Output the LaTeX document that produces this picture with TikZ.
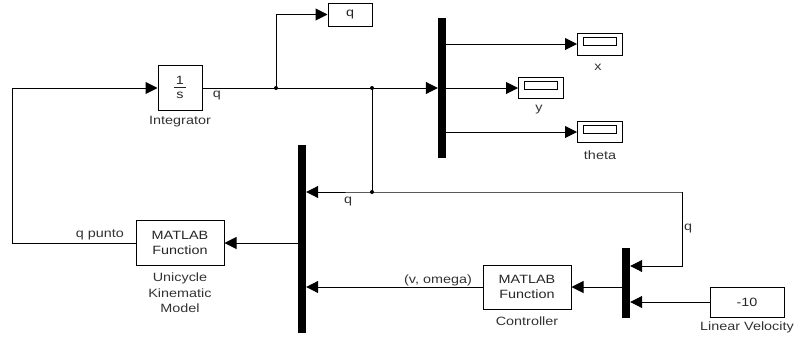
\documentclass[tikz,border=0pt]{standalone}
\usepackage{fontspec}
\setmainfont{Liberation Sans}[FakeStretch=1.2]
\usetikzlibrary{arrows.meta,calc}
\newcommand{\lblfont}{\fontsize{12pt}{15.5pt}\selectfont}
\tikzset{
  blk/.style={draw, line width=1pt, inner sep=0pt, align=center, font=\lblfont, text=black!85},
  muxbar/.style={fill=black, draw=none, inner sep=0pt, minimum width=8pt},
  wire/.style={line width=1pt},
  sig/.style={wire, -{Triangle[length=12pt,width=12pt]}},
  lab/.style={font=\lblfont, text=black!80, inner sep=0pt, align=center},
  jdot/.style={circle, fill=black, inner sep=0pt, minimum size=4pt},
}
\begin{document}
\begin{tikzpicture}[x=1pt,y=-1pt]
\useasboundingbox[fill=white] (0,0) rectangle (797,343);

% blocks
\node[blk, minimum width=44pt, minimum height=45pt] (integ) at (180,88)
  {\begin{tabular}{@{\,}c@{\,}}1\\[-2pt]\hline\rule{0pt}{10pt}s\end{tabular}};
\node[blk, minimum width=44pt, minimum height=23pt] (qdisp) at (350,14.5) {q};
\node[muxbar, minimum height=140pt] (mux1) at (442,88) {};
\node[blk, minimum width=45pt, minimum height=22pt] (dx) at (600,44) {};
\node[blk, minimum width=45pt, minimum height=21pt] (dy) at (541,88) {};
\node[blk, minimum width=45pt, minimum height=21pt] (dth) at (600,132) {};
\node[muxbar, minimum height=188pt] (mux2) at (302,239) {};
\node[blk, minimum width=88pt, minimum height=45pt] (uni) at (180,243) {MATLAB\\Function};
\node[blk, minimum width=88pt, minimum height=44pt] (ctrl) at (527,287) {MATLAB\\Function};
\node[muxbar, minimum height=70pt] (mux3) at (626,283) {};
\node[blk, minimum width=74pt, minimum height=30pt] (lv) at (747,302) {-10};

\foreach \n in {dx,dy,dth}
  \draw[wire] ($(\n.center)+(-16.5,-7)$) rectangle ($(\n.center)+(16.5,1)$);

% block labels
\node[lab] (integlab) at (180,122) {Integrator};
\node[lab] (xlab) at (598,67) {x};
\node[lab] (ylab) at (539,110) {y};
\node[lab] (thlab) at (600,155) {theta};
\node[lab] (unilab) at (180,293) {Unicycle\\Kinematic\\Model};
\node[lab] (ctrllab) at (527,321) {Controller};
\node[lab] (lvlab) at (747,327) {Linear Velocity};

% junctions
\coordinate (b1) at (276,88);
\coordinate (b2) at (372,88);
\coordinate (b3) at (372,192);
\coordinate (qc) at (682,192);
\coordinate (fb) at (12,243);
\node[jdot] (d1) at (b1) {};
\node[jdot] (d2) at (b2) {};
\node[jdot] (d3) at (b3) {};

% signals
\draw[sig] (integ.east) -- (mux1.west |- integ.east);
\draw[sig] (b1) |- (qdisp.west);
\draw[wire] (b2) -- (b3);
\draw[sig] (mux1.east |- dx.west) -- (dx.west);
\draw[sig] (mux1.east |- dy.west) -- (dy.west);
\draw[sig] (mux1.east |- dth.west) -- (dth.west);
\draw[sig] (qc) -- (b3) -- (mux2.east |- b3);
\draw[sig] (qc) |- ($(mux3.east)+(0,-17)$);
\draw[sig] (lv.west) -- (mux3.east |- lv.west);
\draw[sig] (mux3.west |- ctrl.east) -- (ctrl.east);
\draw[sig] (ctrl.west) -- (mux2.east |- ctrl.west);
\draw[sig] (mux2.west |- uni.east) -- (uni.east);
\draw[sig] (uni.west) -- (fb) |- (integ.west);

% signal labels
\node[lab] (lq1) at (217,96) {q};
\node[lab] (lq2) at (348,202) {q};
\node[lab] (lq3) at (688,229) {q};
\node[lab] (lqp) at (100,235) {q punto};
\node[lab] (lvo) at (438,280) {(v, omega)};
\end{tikzpicture}
\end{document}
